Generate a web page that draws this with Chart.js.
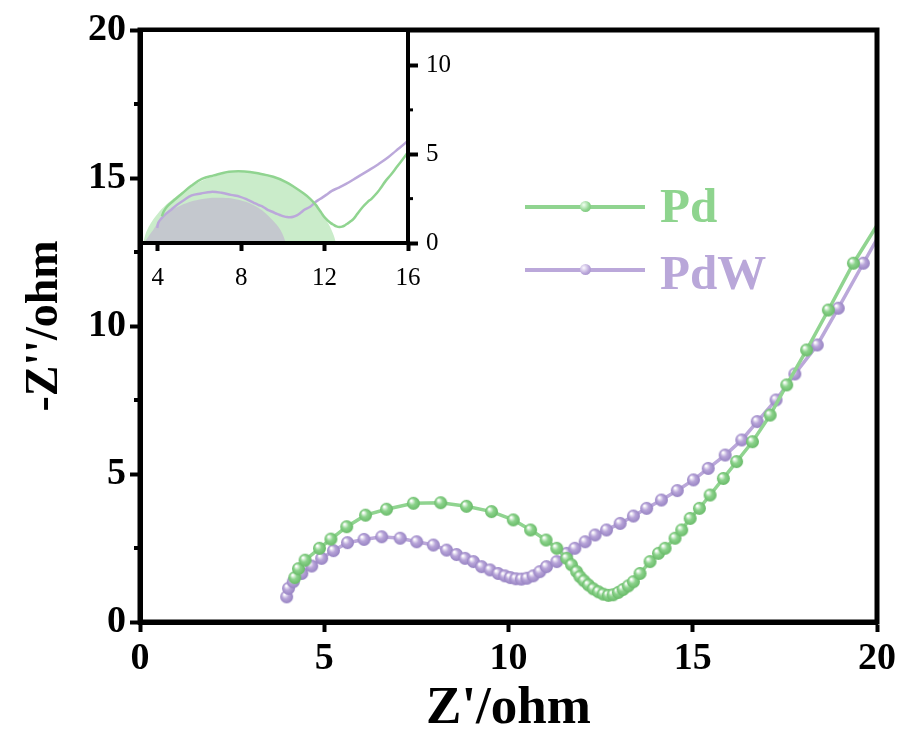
<!DOCTYPE html>
<html>
<head>
<meta charset="utf-8">
<script src="https://cdn.jsdelivr.net/npm/chart.js@4.4.1/dist/chart.umd.min.js"></script>
<style>
body { margin: 0; background: #fff; }
#wrap { position: relative; width: 901px; height: 736px; }
#wrap canvas { position: absolute; left: 0; top: 0; }
.legline { position: absolute; height: 4px; width: 120px; left: 525px; }
.legdot { position: absolute; width: 11px; height: 11px; border-radius: 50%; left: 580px; }
.legtxt { position: absolute; left: 660px; font: bold 49px "Liberation Serif", "Times New Roman", serif; line-height: 1; }
</style>
</head>
<body>
<div id="wrap">
  <canvas id="main" width="901" height="736"></canvas>
  <canvas id="inset" width="901" height="736"></canvas>
  <div class="legline" style="top:205px;background:#90d490"></div>
  <div class="legdot" style="top:201px;background:radial-gradient(circle at 35% 35%,#f2fff2,#8fd48f 55%,#6fbf6f)"></div>
  <div class="legtxt" style="top:181px;color:#8ed48e">Pd</div>
  <div class="legline" style="top:268px;background:#bba8da"></div>
  <div class="legdot" style="top:264px;background:radial-gradient(circle at 35% 35%,#fbf8ff,#b9a6d9 55%,#9c88c4)"></div>
  <div class="legtxt" style="top:248px;color:#b9a7d9">PdW</div>
</div>
<script>
// Nyquist data (Z' , -Z'')
var pdX = [4.20, 4.30, 4.48, 4.87, 5.18, 5.61, 6.12, 6.69, 7.42, 8.16, 8.86, 9.54, 10.13, 10.60, 11.02, 11.31, 11.58, 11.71, 11.85, 11.94, 12.05, 12.17, 12.30, 12.44, 12.57, 12.71, 12.84, 12.98, 13.11, 13.25, 13.39, 13.57, 13.84, 14.07, 14.25, 14.52, 14.70, 14.93, 15.18, 15.47, 15.83, 16.19, 16.62, 17.10, 17.55, 18.09, 18.68, 19.36, 20.15];
var pdY = [1.50, 1.80, 2.09, 2.49, 2.80, 3.22, 3.61, 3.81, 4.01, 4.03, 3.91, 3.73, 3.45, 3.11, 2.77, 2.49, 2.15, 1.93, 1.70, 1.53, 1.39, 1.25, 1.12, 1.02, 0.94, 0.90, 0.92, 1.00, 1.10, 1.22, 1.36, 1.64, 2.04, 2.32, 2.49, 2.83, 3.11, 3.50, 3.84, 4.29, 4.85, 5.42, 6.09, 6.99, 8.01, 9.19, 10.54, 12.12, 13.70];

var pdwX = [3.98, 4.03, 4.16, 4.39, 4.66, 4.93, 5.25, 5.63, 6.08, 6.56, 7.06, 7.51, 7.96, 8.32, 8.59, 8.82, 9.05, 9.27, 9.50, 9.72, 9.90, 10.05, 10.20, 10.35, 10.50, 10.67, 10.85, 11.03, 11.31, 11.58, 11.80, 12.08, 12.35, 12.66, 13.03, 13.39, 13.75, 14.15, 14.58, 15.02, 15.42, 15.88, 16.33, 16.75, 17.26, 17.77, 18.38, 18.95, 19.63, 20.30];
var pdwY = [0.85, 1.14, 1.36, 1.64, 1.89, 2.15, 2.41, 2.68, 2.79, 2.88, 2.83, 2.71, 2.60, 2.43, 2.28, 2.15, 2.04, 1.87, 1.76, 1.64, 1.56, 1.50, 1.46, 1.45, 1.48, 1.56, 1.70, 1.87, 2.04, 2.32, 2.49, 2.71, 2.94, 3.11, 3.33, 3.58, 3.84, 4.12, 4.44, 4.80, 5.19, 5.64, 6.15, 6.77, 7.50, 8.38, 9.36, 10.60, 12.12, 13.60];

// fitted semicircles shown in the inset
var pdFitX = [3.30, 3.50, 4.00, 4.60, 5.30, 6.20, 7.20, 8.20, 9.20, 10.20, 11.00, 11.60, 12.10, 12.40, 12.55];
var pdFitY = [0.00, 0.75, 1.65, 2.35, 2.95, 3.55, 3.90, 3.98, 3.88, 3.42, 2.78, 2.05, 1.25, 0.55, 0.00];
var pdwFitX = [3.35, 3.70, 4.20, 5.00, 6.00, 7.00, 8.00, 8.80, 9.50, 9.90, 10.15];
var pdwFitY = [0.00, 0.60, 1.40, 2.05, 2.45, 2.55, 2.40, 2.00, 1.30, 0.70, 0.00];

// ticks
var xTicks = [0, 5, 10, 15, 20];
var yTicks = [0, 5, 10, 15, 20];
var yMinor = [2.5, 7.5, 12.5, 17.5];
var insetXTicks = [4, 8, 12, 16];
var insetYTicks = [0, 5, 10];
var insetYMinor = [2.5, 7.5];

var serif = '"Liberation Serif", "Times New Roman", serif';
var greenLine = '#90d490', purpleLine = '#bba8da';

function pts(xs, ys) {
  return xs.map(function (x, i) { return { x: x, y: ys[i] }; });
}

function ball(col, edge, r) {
  var s = Math.ceil(2 * r + 2);
  var c = document.createElement('canvas');
  c.width = c.height = s;
  var g = c.getContext('2d');
  var m = s / 2;
  var gr = g.createRadialGradient(m - r * 0.35, m - r * 0.4, r * 0.1, m, m, r);
  gr.addColorStop(0, '#ffffff');
  gr.addColorStop(0.45, col);
  gr.addColorStop(1, edge);
  g.fillStyle = gr;
  g.beginPath();
  g.arc(m, m, r, 0, Math.PI * 2);
  g.fill();
  return c;
}

function fixTicks(list) {
  return function (s) { s.ticks = list.map(function (v) { return { value: v }; }); };
}

// frame + minor ticks
function framePlugin(width, minors, minorLen, side) {
  return {
    id: 'frame',
    afterDraw: function (chart) {
      var a = chart.chartArea, ctx = chart.ctx;
      var ys = chart.scales.y;
      ctx.save();
      ctx.strokeStyle = '#000';
      ctx.lineWidth = Math.max(2, width - 1);
      minors.forEach(function (v) {
        var py = ys.getPixelForValue(v);
        ctx.beginPath();
        if (side === 'left') { ctx.moveTo(a.left, py); ctx.lineTo(a.left - minorLen, py); }
        else { ctx.moveTo(a.right, py); ctx.lineTo(a.right + minorLen, py); }
        ctx.stroke();
      });
      ctx.lineWidth = width;
      ctx.strokeRect(a.left, a.top, a.right - a.left, a.bottom - a.top);
      ctx.restore();
    }
  };
}

var whiteBg = {
  id: 'whiteBg',
  beforeDatasetsDraw: function (chart) {
    var a = chart.chartArea, ctx = chart.ctx;
    ctx.save();
    ctx.fillStyle = '#fff';
    ctx.fillRect(a.left, a.top, a.right - a.left, a.bottom - a.top);
    ctx.restore();
  }
};

new Chart(document.getElementById('main'), {
  type: 'line',
  data: {
    datasets: [
      {
        label: 'Pd', data: pts(pdX, pdY), borderColor: greenLine, borderWidth: 3.5,
        pointStyle: ball('#8cd38c', '#68ba68', 6.5), pointRadius: 6, tension: 0
      },
      {
        label: 'PdW', data: pts(pdwX, pdwY), borderColor: purpleLine, borderWidth: 3.5,
        pointStyle: ball('#b8a5d9', '#9682c2', 6.5), pointRadius: 6, tension: 0
      }
    ]
  },
  options: {
    responsive: false,
    animation: false,
    layout: { padding: { top: 30, right: 24, left: 0, bottom: 0 } },
    plugins: { legend: { display: false }, tooltip: { enabled: false } },
    scales: {
      x: {
        type: 'linear', min: 0, max: 20,
        afterBuildTicks: fixTicks(xTicks),
        afterFit: function (s) { s.height = 114; },
        grid: { drawOnChartArea: false, tickLength: 10, tickWidth: 4, tickColor: '#000' },
        border: { color: '#000', width: 5 },
        ticks: { color: '#000', padding: 4, maxRotation: 0, font: { family: serif, size: 38, weight: 'bold' } },
        title: { display: true, text: "Z'/ohm", color: '#000', padding: { bottom: 0 }, font: { family: serif, size: 53, weight: 'bold', lineHeight: 1 } }
      },
      y: {
        type: 'linear', min: 0, max: 20,
        afterBuildTicks: fixTicks(yTicks),
        afterFit: function (s) { s.width = 140; },
        grid: { drawOnChartArea: false, tickLength: 10, tickWidth: 4, tickColor: '#000' },
        border: { color: '#000', width: 5 },
        ticks: { color: '#000', padding: 4, font: { family: serif, size: 38, weight: 'bold' } },
        title: { display: true, text: "-Z''/ohm", color: '#000', padding: { top: 22 }, font: { family: serif, size: 46, weight: 'bold', lineHeight: 1 } }
      }
    }
  },
  plugins: [framePlugin(5, yMinor, 6, 'left')]
});

new Chart(document.getElementById('inset'), {
  type: 'line',
  data: {
    datasets: [
      { data: pts(pdX, pdY), borderColor: greenLine, borderWidth: 2.5, pointRadius: 0, tension: 0.4, order: 0 },
      { data: pts(pdwX, pdwY), borderColor: purpleLine, borderWidth: 2.5, pointRadius: 0, tension: 0.4, order: 0 },
      { data: pts(pdwFitX, pdwFitY), borderWidth: 0, pointRadius: 0, tension: 0.4, fill: 'origin', backgroundColor: 'rgb(196,200,206)', order: 1 },
      { data: pts(pdFitX, pdFitY), borderWidth: 0, pointRadius: 0, tension: 0.4, fill: 'origin', backgroundColor: 'rgb(202,236,202)', order: 2 }
    ]
  },
  options: {
    responsive: false,
    animation: false,
    layout: { padding: { top: 30, right: 0, left: 141, bottom: 0 } },
    plugins: { legend: { display: false }, tooltip: { enabled: false } },
    scales: {
      x: {
        type: 'linear', min: 3.2, max: 16,
        afterBuildTicks: fixTicks(insetXTicks),
        afterFit: function (s) { s.height = 736 - 243; },
        grid: { drawOnChartArea: false, tickLength: 8, tickWidth: 4, tickColor: '#000' },
        border: { color: '#000', width: 4 },
        ticks: { color: '#000', padding: 12, maxRotation: 0, font: { family: serif, size: 25 } }
      },
      y: {
        type: 'linear', position: 'right', min: 0, max: 12,
        afterBuildTicks: fixTicks(insetYTicks),
        afterFit: function (s) { s.width = 901 - 408; },
        grid: { drawOnChartArea: false, tickLength: 10, tickWidth: 4, tickColor: '#000' },
        border: { color: '#000', width: 4 },
        ticks: { color: '#000', padding: 8, font: { family: serif, size: 25 } }
      }
    }
  },
  plugins: [whiteBg, framePlugin(4, insetYMinor, 5, 'right')]
});
</script>
</body>
</html>
